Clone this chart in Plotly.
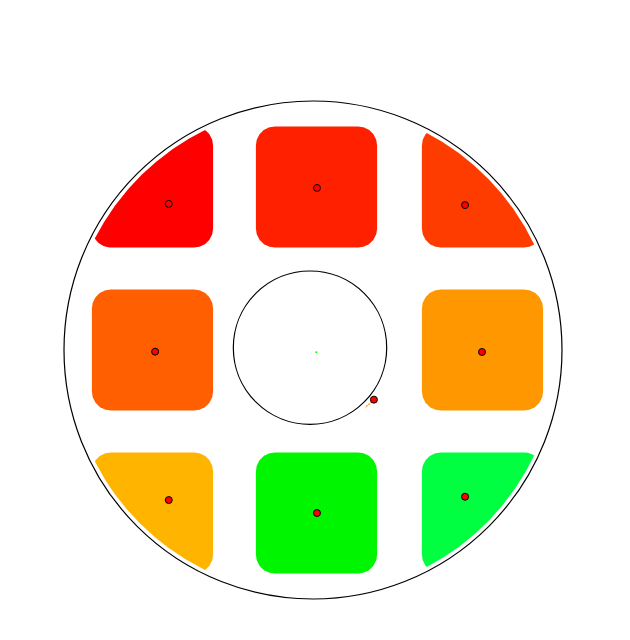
import numpy as np
import plotly.graph_objects as go

# ---- data (wafer coordinates in mm, wafer radius 150) ----
wafer_radius = 150.0
clip_radius = 147.6
die_size = 73.0
die_corner = 11.5

die_cx = [-96.7, 2.1, 102.1, -96.7, 102.1, -96.7, 2.1, 102.1]
die_cy = [98.2, 98.2, 98.2, 0.0, 0.0, -98.2, -98.2, -98.2]
die_colors = ["#FF0000", "#FF2000", "#FF3C00", "#FF5F00",
              "#FF9700", "#FFB400", "#00F600", "#00FF40"]

centroid_x = [-86.9, 2.4, 91.6, -95.1, 101.8, -86.9, 2.4, 91.6]
centroid_y = [88.0, 97.6, 87.3, -1.0, -1.2, -90.4, -98.2, -88.4]

inner_cx, inner_cy, inner_r = -1.8, 1.4, 46.2
center_mark = (2.0, -1.4)
notch_mark = (36.7, -29.9)
notch_line_x = [35.6, 31.4]
notch_line_y = [-31.0, -34.6]

# ---- geometry helpers ----
def rounded_rect(cx, cy, size, r, n=40):
    h = size / 2.0
    pts = []
    corners = [(h - r, h - r, 0), (-h + r, h - r, 90), (-h + r, -h + r, 180), (h - r, -h + r, 270)]
    for ox, oy, a0 in corners:
        t = np.radians(np.linspace(a0, a0 + 90, n))
        pts.append(np.column_stack([cx + ox + r * np.cos(t), cy + oy + r * np.sin(t)]))
    return np.vstack(pts)

def inside_rr(px, py, cx, cy, size, r):
    h = size / 2.0
    dx = np.abs(px - cx)
    dy = np.abs(py - cy)
    inside = (dx <= h) & (dy <= h)
    corner = (dx > h - r) & (dy > h - r)
    dist = np.hypot(dx - (h - r), dy - (h - r))
    return inside & ~(corner & (dist > r))

def clipped_die(cx, cy):
    rr = rounded_rect(cx, cy, die_size, die_corner)
    keep = np.hypot(rr[:, 0], rr[:, 1]) <= clip_radius
    pts = [rr[keep]]
    t = np.linspace(0, 2 * np.pi, 2000, endpoint=False)
    circ = np.column_stack([clip_radius * np.cos(t), clip_radius * np.sin(t)])
    m = inside_rr(circ[:, 0], circ[:, 1], cx, cy, die_size, die_corner)
    pts.append(circ[m])
    P = np.vstack(pts)
    c = P.mean(axis=0)
    ang = np.arctan2(P[:, 1] - c[1], P[:, 0] - c[0])
    P = P[np.argsort(ang)]
    return np.vstack([P, P[:1]])

fig = go.Figure()

for cx, cy, col in zip(die_cx, die_cy, die_colors):
    P = clipped_die(cx, cy)
    fig.add_trace(go.Scatter(x=P[:, 0], y=P[:, 1], mode="lines", fill="toself",
                             fillcolor=col, line=dict(color=col, width=0),
                             hoverinfo="skip", showlegend=False))

fig.add_shape(type="circle", xref="x", yref="y",
              x0=-wafer_radius, y0=-wafer_radius, x1=wafer_radius, y1=wafer_radius,
              line=dict(color="black", width=1.2))
fig.add_shape(type="circle", xref="x", yref="y",
              x0=inner_cx - inner_r, y0=inner_cy - inner_r,
              x1=inner_cx + inner_r, y1=inner_cy + inner_r,
              line=dict(color="black", width=1.2))

fig.add_trace(go.Scatter(x=notch_line_x, y=notch_line_y, mode="lines",
                         line=dict(color="#FF9933", width=1.3, dash="2px,1px"),
                         hoverinfo="skip", showlegend=False))

fig.add_trace(go.Scatter(x=centroid_x + [notch_mark[0]], y=centroid_y + [notch_mark[1]],
                         mode="markers",
                         marker=dict(color="red", size=7, line=dict(color="black", width=1)),
                         showlegend=False))
fig.add_trace(go.Scatter(x=[center_mark[0]], y=[center_mark[1]], mode="markers",
                         marker=dict(color="#00FF00", size=2),
                         showlegend=False))

s = 1.66  # px per mm
cx_px, cy_px = 305.0, 342.0  # wafer centre inside the plot div
fig.update_layout(
    width=630, height=640,
    margin=dict(l=0, r=0, t=0, b=0),
    paper_bgcolor="white", plot_bgcolor="white",
    xaxis=dict(visible=False, range=[-cx_px / s, (630 - cx_px) / s], fixedrange=True),
    yaxis=dict(visible=False, range=[-(640 - cy_px) / s, cy_px / s], fixedrange=True),
    showlegend=False,
)

fig.write_html("out.html")
